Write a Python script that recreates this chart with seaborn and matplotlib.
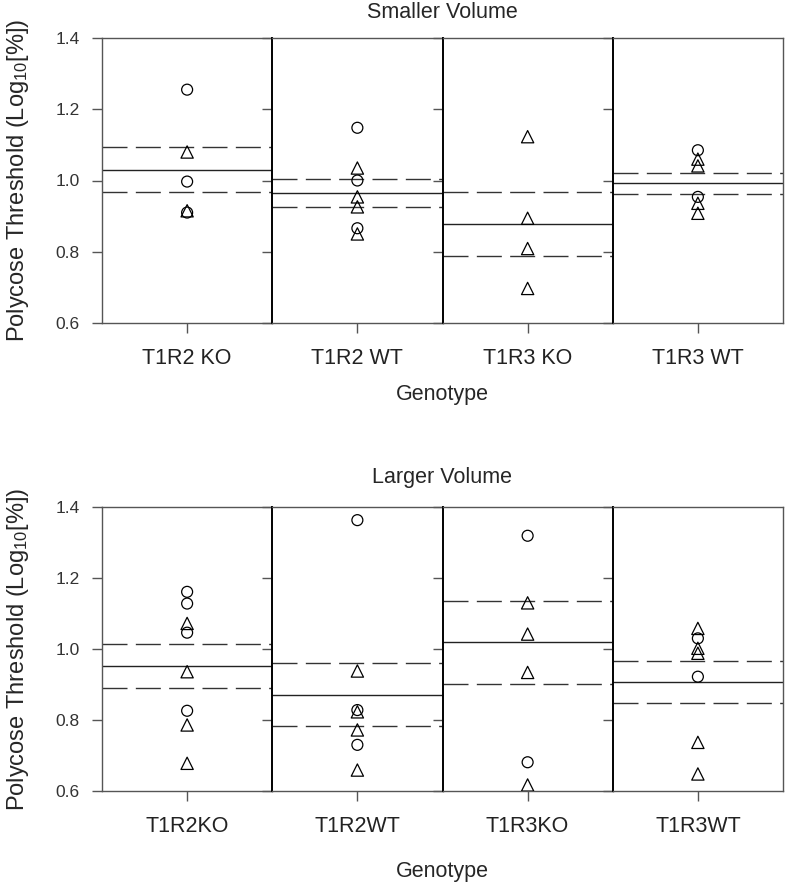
import numpy as np
import pandas as pd
import matplotlib
matplotlib.use('Agg')
import matplotlib.pyplot as plt
import seaborn as sns

# valeurs (Log10 du seuil)
small_labels = ['T1R2 KO', 'T1R2 WT', 'T1R3 KO', 'T1R3 WT']
small_circles = [[1.255, 0.997, 0.910], [1.148, 1.000, 0.866], [], [1.085, 0.954]]
small_triangles = [[1.080, 0.915], [1.035, 0.954, 0.926, 0.850],
                   [1.123, 0.894, 0.809, 0.697], [1.060, 1.041, 0.936, 0.908]]
small_mean = [1.030, 0.966, 0.878, 0.992]
small_upper = [1.095, 1.004, 0.967, 1.021]
small_lower = [0.967, 0.925, 0.787, 0.961]

large_labels = ['T1R2KO', 'T1R2WT', 'T1R3KO', 'T1R3WT']
large_circles = [[1.161, 1.128, 1.046, 0.826], [1.363, 0.828, 0.730],
                 [1.319, 0.681], [1.030, 0.922]]
large_triangles = [[1.072, 0.936, 0.786, 0.678], [0.938, 0.823, 0.772, 0.659],
                   [1.130, 1.042, 0.934, 0.617], [1.058, 1.002, 0.988, 0.737, 0.648]]
large_mean = [0.952, 0.870, 1.020, 0.906]
large_upper = [1.014, 0.960, 1.134, 0.966]
large_lower = [0.889, 0.783, 0.902, 0.847]

W, H = 787, 884

sns.set_style('ticks')
plt.rcParams['font.family'] = ['Liberation Sans', 'DejaVu Sans']
plt.rcParams['mathtext.default'] = 'regular'

fig = plt.figure(figsize=(W / 100, H / 100), dpi=100)


def draw_panel(top, bottom, labels, circles, triangles, means, uppers, lowers, title, title_y, xlab_y):
    rows = []
    for g, c, t in zip(labels, circles, triangles):
        rows += [(g, v, 'circle') for v in c]
        rows += [(g, v, 'triangle') for v in t]
    df = pd.DataFrame(rows, columns=['genotype', 'value', 'shape'])

    left, right = 102, 783
    w = (right - left) / len(labels)
    for i, g in enumerate(labels):
        ax = fig.add_axes([(left + i * w) / W, 1 - bottom / H, w / W, (bottom - top) / H])
        sub = df[df['genotype'] == g]
        for shape, mk, s in [('circle', 'o', 62), ('triangle', '^', 78)]:
            d = sub[sub['shape'] == shape]
            if len(d) == 0:
                continue
            sns.scatterplot(data=d, x='genotype', y='value', marker=mk, s=s,
                            facecolors='none', edgecolor='black', linewidth=0.9,
                            ax=ax, legend=False, zorder=3)
        ax.axhline(means[i], color='#222222', lw=1.0, zorder=2)
        for yv in (uppers[i], lowers[i]):
            ax.axhline(yv, color='#333333', lw=1.0, dashes=(18, 6), zorder=2)

        ax.set_xlim(-0.5, 0.5)
        ax.set_ylim(0.6, 1.4)
        ax.set_yticks([0.6, 0.8, 1.0, 1.2, 1.4])
        ax.set_xlabel('')
        ax.set_ylabel('')
        ax.tick_params(axis='x', direction='out', length=7, width=1, color='#555555',
                       labelsize=15.5, pad=11, labelcolor='#222222')
        ax.tick_params(axis='y', direction='out', length=7, width=1, color='#555555',
                       labelsize=12.5, pad=9, labelcolor='#333333')
        for sp in ax.spines.values():
            sp.set_color('#555555')
            sp.set_linewidth(1.0)
        if i == 0:
            ax.set_yticklabels(['0.6', '0.8', '1.0', '1.2', '1.4'])
        else:
            ax.tick_params(axis='y', labelleft=False)
            ax.spines['left'].set_color('black')
            ax.spines['left'].set_linewidth(1.4)

    fig.text(442 / W, 1 - title_y / H, title, ha='center', va='center', fontsize=15.5)
    fig.text(442 / W, 1 - xlab_y / H, 'Genotype', ha='center', va='center', fontsize=15.5)
    fig.text(18 / W, 1 - (top + bottom) / 2 / H, 'Polycose Threshold (Log$_{10}$[%])',
             rotation=90, ha='center', va='center', fontsize=17)


draw_panel(38, 323, small_labels, small_circles, small_triangles,
           small_mean, small_upper, small_lower, 'Smaller Volume', 12, 395)
draw_panel(507, 791, large_labels, large_circles, large_triangles,
           large_mean, large_upper, large_lower, 'Larger Volume', 477, 872)

fig.savefig('out.png', dpi=100)
